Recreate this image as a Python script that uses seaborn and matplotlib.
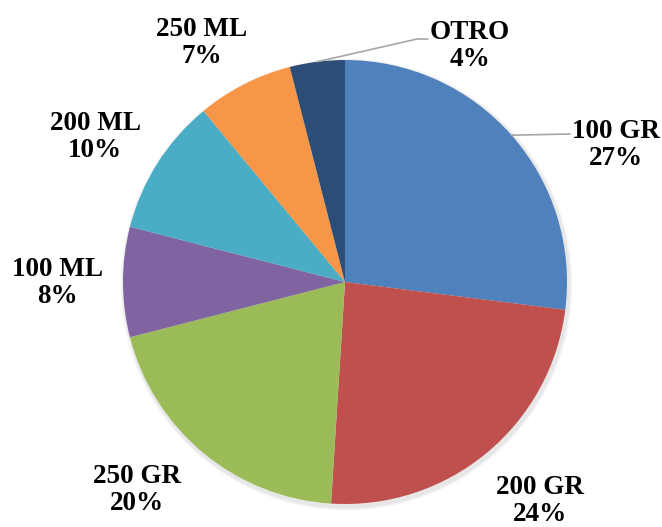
import numpy as np
import matplotlib
matplotlib.use("Agg")
import matplotlib.pyplot as plt
from matplotlib.patches import Circle
import seaborn as sns

# Share of sales by product presentation
categories = ["100 GR", "200 GR", "250 GR", "100 ML", "200 ML", "250 ML", "OTRO"]
shares = [27, 24, 20, 8, 10, 7, 4]
colors = ["#4F81BD", "#C0504D", "#9BBB59", "#8064A2", "#4BACC6", "#F79646", "#2C4D75"]

sns.set_theme(style="white")
plt.rcParams["font.family"] = ["Liberation Serif", "DejaVu Serif"]

W, H = 662, 527
fig = plt.figure(figsize=(W / 100, H / 100), dpi=100)
ax = fig.add_axes([0, 0, 1, 1])

cx, cy, R = 345, H - 282, 222

# faint soft shadow under the pie
for k, a in [(4, 0.05), (3, 0.06), (2, 0.08)]:
    ax.add_patch(Circle((cx + 1.5, cy - 2.5), R + k, color="#808080",
                        alpha=a, lw=0, zorder=0))

wedges, _ = ax.pie(shares, colors=sns.color_palette(colors), startangle=90,
                   counterclock=False, center=(cx, cy), radius=R,
                   wedgeprops=dict(linewidth=0, zorder=1))
ax.set_xlim(0, W)
ax.set_ylim(0, H)
ax.set_aspect("equal")
ax.axis("off")

# label block centres (pixel layout)
label_pos = {
    "100 GR": (616, H - 145),
    "200 GR": (540, H - 501),
    "250 GR": (137, H - 490),
    "100 ML": (57, H - 283),
    "200 ML": (95, H - 137),
    "250 ML": (202, H - 43),
    "OTRO": (470, H - 46),
}
for cat, val in zip(categories, shares):
    x, y = label_pos[cat]
    ax.text(x, y, f"{cat}\n{val}%", ha="center", va="center", fontsize=19.5,
            fontweight="bold", color="black", linespacing=1.15)

# leader lines from the middle of a slice's rim
def rim_mid(w):
    a = np.deg2rad(0.5 * (w.theta1 + w.theta2))
    return cx + R * np.cos(a), cy + R * np.sin(a)

gx, gy = rim_mid(wedges[0])
ax.plot([gx, 570], [gy, H - 134], color="#A6A6A6", lw=1.2, zorder=2)
ox, oy = rim_mid(wedges[6])
ax.plot([ox, 417, 428], [oy, H - 39, H - 39], color="#A6A6A6", lw=1.2, zorder=2)

fig.savefig("out.png", dpi=100)
